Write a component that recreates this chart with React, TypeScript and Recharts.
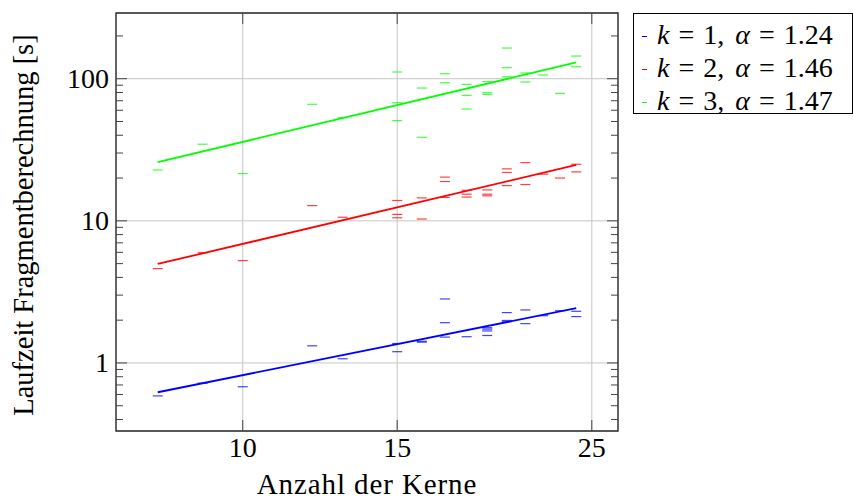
import React from 'react';
import {
  ComposedChart,
  Scatter,
  Line,
  XAxis,
  YAxis,
  CartesianGrid,
  ReferenceArea,
} from 'recharts';

// ---- measured run times (seconds) per number of cores ----
const K1_CORES = [8, 9, 10, 12, 13, 15, 15, 16, 16, 17, 17, 17, 18, 19, 19, 19, 19, 20, 20, 20, 21, 21, 22, 23, 24, 24];
const K1_TIMES = [0.586, 0.72, 0.68, 1.32, 1.07, 1.37, 1.2, 1.42, 1.4, 2.82, 1.92, 1.52, 1.53, 1.77, 1.73, 1.68, 1.56, 2.26, 1.99, 1.95, 2.36, 1.89, 2.15, 2.33, 2.31, 2.12];

const K2_CORES = [8, 9, 10, 12, 13, 15, 15, 15, 16, 16, 17, 17, 17, 18, 18, 18, 19, 19, 19, 20, 20, 20, 21, 21, 22, 23, 24, 24];
const K2_TIMES = [4.61, 5.97, 5.25, 12.8, 10.6, 13.9, 11.1, 10.5, 14.5, 10.3, 20.3, 18.9, 14.6, 16.4, 15.4, 14.7, 16.5, 15.4, 15.0, 23.2, 21.9, 17.7, 25.7, 18.0, 21.3, 20.0, 25.0, 22.1];

const K3_CORES = [8, 9, 10, 12, 13, 15, 15, 15, 16, 16, 17, 17, 18, 18, 18, 19, 19, 19, 20, 20, 20, 21, 21, 22, 23, 24, 24];
const K3_TIMES = [22.8, 34.6, 21.5, 66.1, 53.2, 111.5, 67.8, 50.7, 86.0, 38.7, 108.4, 93.7, 91.3, 76.4, 61.2, 95.3, 79.7, 77.6, 164.4, 119.5, 103.3, 109.6, 94.8, 106.2, 78.9, 144.4, 121.4];

// ---- power-law fits  t = c * n^alpha ----
const FIT_ALPHA = [1.24, 1.46, 1.47];
const FIT_COEF = [0.0472, 0.2387, 1.218];
const FIT_RANGE = [8, 24];

const SERIES_K = [1, 2, 3];
const SERIES_COLORS = ['#0000ff', '#ff0000', '#00ff00'];

// ---- axes ----
const X_DOMAIN = [7.17, 26.78];
const Y_DOMAIN = [0.332, 290];
const X_TICKS = [10, 15, 25];
const Y_MAJOR = [1, 10, 100];
const Y_MINOR = [0.4, 0.5, 0.6, 0.7, 0.8, 0.9, 2, 3, 4, 5, 6, 7, 8, 9, 20, 30, 40, 50, 60, 70, 80, 90, 200];

const X_TITLE = 'Anzahl der Kerne';
const Y_TITLE = 'Laufzeit Fragmentberechnung [s]';

// ---- layout ----
const W = 853;
const H = 500;
const PLOT = { left: 116, right: 618, top: 13, bottom: 431 };
const FONT = '"Liberation Serif", "Times New Roman", serif';
const TICK_FONT = 28;

const zip = (xs: number[], ys: number[]) => xs.map((x, i) => ({ x, y: ys[i] }));
const seriesPoints = [zip(K1_CORES, K1_TIMES), zip(K2_CORES, K2_TIMES), zip(K3_CORES, K3_TIMES)];
const fitPoints = FIT_ALPHA.map((a, i) =>
  FIT_RANGE.map((n) => ({ x: n, y: FIT_COEF[i] * Math.pow(n, a) }))
);

const dashShape = (color: string) => (props: any) => {
  const { cx, cy } = props;
  if (cx == null || cy == null) return <g />;
  return (
    <line
      x1={cx - 5}
      x2={cx + 5}
      y1={cy}
      y2={cy}
      stroke={color}
      strokeWidth={1.2}
      strokeOpacity={0.75}
    />
  );
};

const XTick = (props: any) => {
  const { x, payload } = props;
  return (
    <g>
      <line x1={x} x2={x} y1={PLOT.bottom - 11} y2={PLOT.bottom} stroke="#444" strokeWidth={1} />
      <line x1={x} x2={x} y1={PLOT.top} y2={PLOT.top + 11} stroke="#444" strokeWidth={1} />
      <text x={x} y={457} textAnchor="middle" fontFamily={FONT} fontSize={TICK_FONT} fill="#000">
        {payload.value}
      </text>
    </g>
  );
};

const YTick = (props: any) => {
  const { y, payload } = props;
  const v = payload.value;
  const major = Y_MAJOR.includes(v);
  const len = major ? 11 : 7;
  return (
    <g>
      <line x1={PLOT.left} x2={PLOT.left + len} y1={y} y2={y} stroke="#444" strokeWidth={1} />
      <line x1={PLOT.right - len} x2={PLOT.right} y1={y} y2={y} stroke="#444" strokeWidth={1} />
      {major && (
        <text x={109} y={y + 9.5} textAnchor="end" fontFamily={FONT} fontSize={TICK_FONT} fill="#000">
          {v}
        </text>
      )}
    </g>
  );
};

const XTitle = () => (
  <text
    x={(PLOT.left + PLOT.right) / 2}
    y={494}
    textAnchor="middle"
    fontFamily={FONT}
    fontSize={29}
    letterSpacing={0.9}
    fill="#000"
  >
    {X_TITLE}
  </text>
);

const YTitle = () => (
  <text
    transform={`translate(33, 225) rotate(-90)`}
    textAnchor="middle"
    fontFamily={FONT}
    fontSize={28.5}
    fill="#000"
  >
    {Y_TITLE}
  </text>
);

const Eq = () => <span style={{ margin: '0 9px' }}>=</span>;

const LegendBox = () => (
  <div
    style={{
      position: 'absolute',
      left: 633,
      top: 13,
      width: 220,
      height: 101,
      boxSizing: 'border-box',
      border: '1px solid #000',
      background: '#fff',
      paddingTop: 4,
      fontFamily: FONT,
      fontSize: 28,
      lineHeight: '33px',
      color: '#000',
      whiteSpace: 'nowrap',
    }}
  >
    {SERIES_K.map((k, i) => (
      <div key={k} style={{ position: 'relative', height: 33, paddingLeft: 23 }}>
        <span
          style={{
            position: 'absolute',
            left: 8,
            top: 18,
            width: 5,
            height: 1,
            background: SERIES_COLORS[i],
          }}
        />
        <i>k</i>
        <Eq />
        {k},<span style={{ display: 'inline-block', width: 11 }} />
        <i>α</i>
        <Eq />
        {FIT_ALPHA[i].toFixed(2)}
      </div>
    ))}
  </div>
);

export default function App() {
  return (
    <div style={{ position: 'absolute', left: 0, top: 0, width: W, height: H, background: '#fff' }}>
      <ComposedChart
        width={W}
        height={H}
        margin={{ top: PLOT.top, right: W - PLOT.right, bottom: 0, left: 0 }}
      >
        <CartesianGrid stroke="#c6c6c6" strokeWidth={1} horizontalValues={Y_MAJOR} />
        <XAxis
          type="number"
          dataKey="x"
          scale="log"
          domain={X_DOMAIN}
          ticks={X_TICKS}
          interval={0}
          allowDataOverflow
          axisLine={false}
          tickLine={false}
          tick={<XTick />}
          height={H - PLOT.bottom}
          label={<XTitle />}
        />
        <YAxis
          type="number"
          dataKey="y"
          scale="log"
          domain={Y_DOMAIN}
          ticks={[...Y_MAJOR, ...Y_MINOR]}
          interval={0}
          allowDataOverflow
          axisLine={false}
          tickLine={false}
          tick={<YTick />}
          width={PLOT.left}
          label={<YTitle />}
        />
        {seriesPoints.map((pts, i) => (
          <Scatter
            key={`pts-${i}`}
            data={pts}
            dataKey="y"
            shape={dashShape(SERIES_COLORS[i])}
            isAnimationActive={false}
          />
        ))}
        {fitPoints.map((pts, i) => (
          <Line
            key={`fit-${i}`}
            data={pts}
            dataKey="y"
            stroke={SERIES_COLORS[i]}
            strokeWidth={1.8}
            dot={false}
            activeDot={false}
            isAnimationActive={false}
          />
        ))}
        <ReferenceArea
          x1={X_DOMAIN[0]}
          x2={X_DOMAIN[1]}
          y1={Y_DOMAIN[0]}
          y2={Y_DOMAIN[1]}
          fill="none"
          fillOpacity={0}
          stroke="#222"
          strokeWidth={1.3}
          strokeOpacity={1}
        />
      </ComposedChart>
      <LegendBox />
    </div>
  );
}
